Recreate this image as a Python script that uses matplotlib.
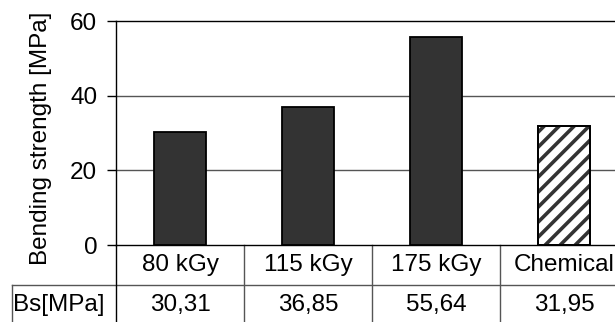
import numpy as np
import matplotlib
matplotlib.use("Agg")
import matplotlib.pyplot as plt
from matplotlib.transforms import IdentityTransform

plt.rcParams["font.family"] = ["Liberation Sans", "DejaVu Sans"]

categories = ["80 kGy", "115 kGy", "175 kGy", "Chemical"]
strength = [30.31, 36.85, 55.64, 31.95]
value_labels = ["30,31", "36,85", "55,64", "31,95"]
row_label = "Bs[MPa]"
yticks = [0, 20, 40, 60]

W, H = 615, 322
FS = 17.5
fig = plt.figure(figsize=(W / 100, H / 100), dpi=100)

# plot area in pixels: left 116, top 21, zero line 245, right edge past the image
ax = fig.add_axes([116 / W, 77 / H, 512 / W, 224 / H])
ax.set_xlim(-0.5, 3.5)
ax.set_ylim(0, 60)

x = np.arange(len(categories))
hatched = []
for i, v in enumerate(strength):
    if categories[i] == "Chemical":
        bars = ax.bar(x[i], v, width=0.41, color="white", edgecolor="black",
                      linewidth=1.3, zorder=3)
        hatched.append(bars[0])
    else:
        ax.bar(x[i], v, width=0.41, color="#333333", edgecolor="black",
               linewidth=1.3, zorder=3)

# diagonal stripes (wider spacing than the built-in hatch), clipped to the bar
for p in hatched:
    x0, y0 = ax.transData.transform((p.get_x(), p.get_y()))
    x1, y1 = ax.transData.transform((p.get_x() + p.get_width(), p.get_y() + p.get_height()))
    step = 15
    for c in np.arange(y0 - (x1 - x0), y1 + step, step):
        ln, = ax.plot([x0, x1], [c, c + (x1 - x0)], color="#333333", lw=2.6,
                      transform=IdentityTransform(), zorder=3.5,
                      solid_capstyle="butt")
        ln.set_clip_path(p)
    ax.add_patch(plt.Rectangle((p.get_x(), p.get_y()), p.get_width(), p.get_height(),
                               fill=False, edgecolor="black", linewidth=1.3, zorder=4))

ax.set_yticks(yticks)
ax.set_yticklabels([str(t) for t in yticks], fontsize=FS)
ax.tick_params(axis="y", length=6.5, width=1, pad=7, color="black")
ax.set_xticks([])
for t in [20, 40]:
    ax.axhline(t, color="#555555", lw=1, zorder=1)

ax.spines["right"].set_visible(False)
for s in ["left", "top", "bottom"]:
    ax.spines[s].set_color("black")
    ax.spines[s].set_linewidth(1)

# y label
fig.text(41 / W, 1 - 138 / H, "Bending strength [MPa]", rotation=90,
         ha="center", va="center", fontsize=FS)

# data table under the chart
tr = ax.get_xaxis_transform()
row_line = -40 / 224
bottom = -80 / 224
grid_kw = dict(color="#555555", lw=1, clip_on=False, transform=tr)
ax.plot([-1.3125, 3.5], [row_line, row_line], **grid_kw)
for xb in [0.5, 1.5, 2.5]:
    ax.plot([xb, xb], [0, bottom], **grid_kw)
ax.plot([-0.5, -0.5], [0, bottom], color="black", lw=1, clip_on=False, transform=tr)
ax.plot([-1.3125, -1.3125], [row_line, bottom], **grid_kw)

for i, (c, v) in enumerate(zip(categories, value_labels)):
    ax.text(x[i], -20 / 224, c, transform=tr, ha="center", va="center", fontsize=FS)
    ax.text(x[i], -60 / 224, v, transform=tr, ha="center", va="center", fontsize=FS)
ax.text(-0.945, -60 / 224, row_label, transform=tr, ha="center", va="center", fontsize=FS)

fig.savefig("out.png", dpi=100)
